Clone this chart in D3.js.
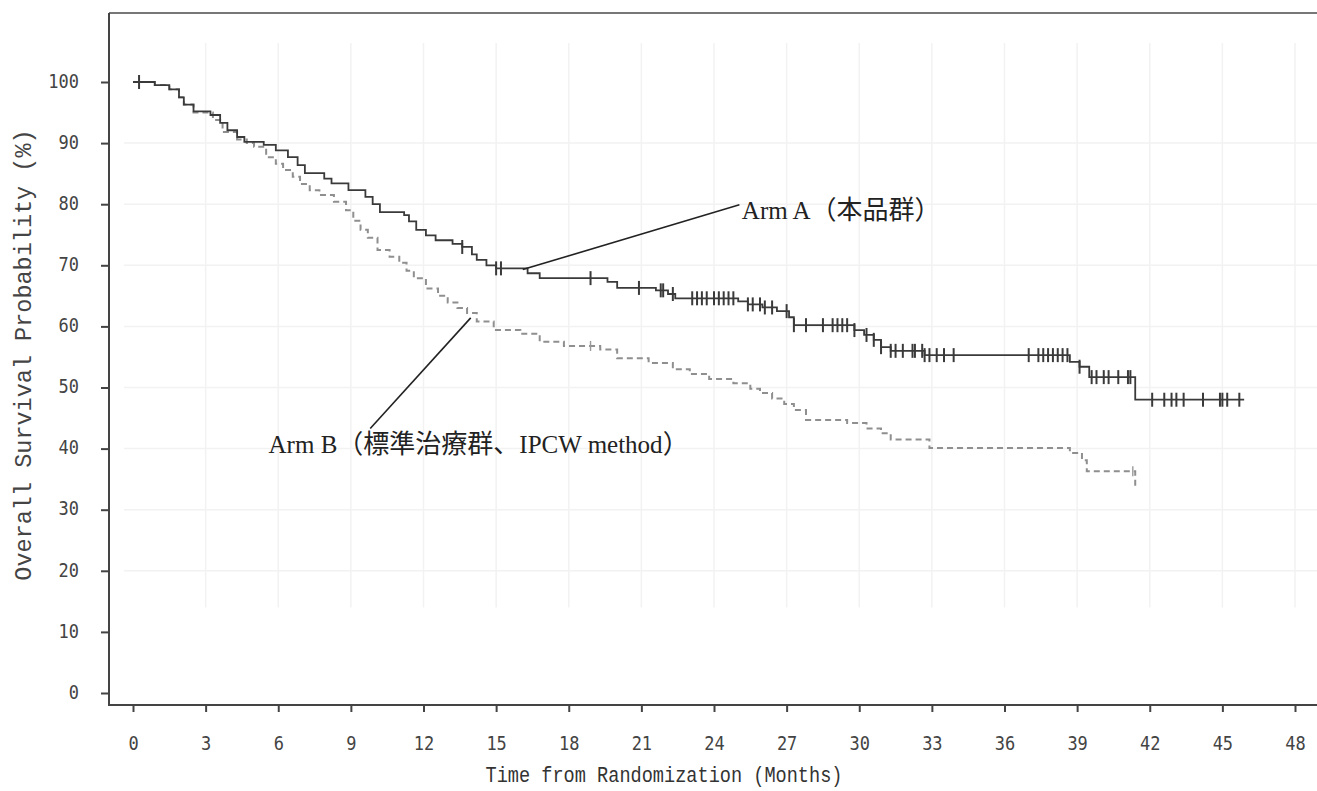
<!DOCTYPE html>
<html>
<head>
<meta charset="utf-8">
<script src="https://d3js.org/d3.v7.min.js"></script>
<style>
  body { margin: 0; background: #fff; }
  svg { display: block; }
</style>
</head>
<body>
<svg id="chart"></svg>
<script>
// 时间 (月) 与生存率 (%) —— 每一步之后的值
const armATime = [0, 0.9, 1.5, 1.9, 2.1, 2.5, 3.2, 3.6, 3.9, 4.3, 4.6, 5.4, 5.9, 6.4, 6.8, 7.1, 7.9, 8.2, 8.9, 9.6, 9.9, 10.2, 11.2, 11.4, 11.7, 12.1, 12.5, 13.2, 13.6, 14.0, 14.2, 14.6, 15.0, 16.3, 16.8, 19.6, 20.0, 21.6, 22.1, 22.4, 25.0, 25.4, 26.0, 26.6, 27.1, 27.3, 29.8, 30.2, 30.6, 30.9, 31.3, 32.7, 38.7, 39.1, 39.5, 41.4, 45.9];
const armASurv = [100, 99.5, 98.8, 97.5, 96.3, 95.2, 94.6, 93.3, 92.1, 91.0, 90.2, 89.7, 88.8, 87.7, 86.4, 85.1, 84.2, 83.4, 82.3, 81.2, 80.0, 78.7, 78.2, 77.2, 75.8, 74.9, 74.1, 73.5, 73.0, 71.8, 70.9, 70.0, 69.5, 68.7, 67.9, 67.3, 66.3, 65.9, 65.3, 64.6, 64.1, 63.6, 63.1, 62.5, 61.5, 60.2, 59.4, 58.6, 57.8, 56.6, 56.0, 55.3, 54.2, 53.4, 51.7, 48.0, 48.0];
const armACensor = [0.25, 13.6, 15.0, 15.2, 18.9, 20.9, 21.8, 21.9, 22.3, 23.1, 23.3, 23.5, 23.7, 24.0, 24.2, 24.4, 24.6, 24.8, 25.4, 25.6, 25.9, 26.1, 26.4, 27.0, 27.3, 27.8, 28.5, 28.9, 29.1, 29.3, 29.5, 29.8, 30.3, 30.6, 30.9, 31.3, 31.5, 31.8, 32.2, 32.3, 32.6, 32.7, 32.9, 33.2, 33.5, 33.9, 37.0, 37.4, 37.6, 37.8, 38.0, 38.2, 38.4, 38.6, 39.1, 39.6, 39.8, 40.1, 40.3, 40.7, 41.1, 41.2, 42.1, 42.6, 42.9, 43.1, 43.4, 44.2, 44.9, 45.0, 45.2, 45.7];

const armBTime = [0, 0.9, 1.5, 1.9, 2.1, 2.5, 3.3, 3.7, 4.3, 4.7, 5.0, 5.5, 5.9, 6.2, 6.6, 6.9, 7.3, 7.7, 8.3, 8.8, 9.1, 9.4, 9.7, 10.1, 10.6, 11.0, 11.3, 11.6, 12.1, 12.6, 13.0, 13.4, 13.8, 14.2, 14.9, 16.0, 16.8, 17.8, 19.3, 20.0, 21.3, 22.3, 23.0, 23.8, 24.8, 25.5, 25.9, 26.4, 26.9, 27.3, 27.8, 29.5, 30.3, 30.9, 31.3, 32.9, 38.7, 39.2, 39.4, 41.4];
const armBSurv = [100, 99.5, 98.8, 97.5, 96.3, 95.0, 93.8, 91.8, 90.6, 90.0, 89.4, 87.7, 86.6, 85.6, 84.5, 83.3, 82.3, 81.5, 80.4, 79.0, 77.3, 75.8, 74.5, 72.5, 71.4, 70.4, 69.1, 67.9, 66.2, 65.0, 63.9, 63.0, 62.2, 60.8, 59.4, 58.8, 57.5, 56.8, 56.2, 54.8, 54.0, 53.0, 52.2, 51.4, 50.7, 49.8, 49.1, 48.2, 47.3, 46.3, 44.7, 44.2, 43.3, 42.5, 41.5, 40.1, 39.3, 38.1, 36.3, 33.6];
const armBCensor = [18.9, 41.3];

const xTicks = [0, 3, 6, 9, 12, 15, 18, 21, 24, 27, 30, 33, 36, 39, 42, 45, 48];
const yTicks = [0, 10, 20, 30, 40, 50, 60, 70, 80, 90, 100];

const xTitle = "Time from Randomization (Months)";
const yTitle = "Overall Survival Probability (%)";
const labelA = ["Arm A", "（本品群）"];
const labelB = ["Arm B", "（標準治療群、", "IPCW method", "）"];

const width = 1317, height = 791;
const frame = { left: 109, top: 13, bottom: 705 };

const svg = d3.select("#chart").attr("width", width).attr("height", height);

//比例尺
const x = d3.scaleLinear().domain([0, 48]).range([133, 1295]);
const y = d3.scaleLinear().domain([0, 100]).range([693, 82]);

//网格线 (很淡)
const grid = svg.append("g").attr("stroke", "#f2f2f2").attr("stroke-width", 1.5);
grid.selectAll("line.gx").data(xTicks.slice(1)).enter().append("line")
  .attr("x1", d => x(d)).attr("x2", d => x(d))
  .attr("y1", frame.top + 30).attr("y2", y(14));
grid.selectAll("line.gy").data(yTicks.filter(d => d >= 20 && d <= 90)).enter().append("line")
  .attr("x1", frame.left + 15).attr("x2", width)
  .attr("y1", d => y(d)).attr("y2", d => y(d));

//外框
svg.append("line")
  .attr("x1", frame.left).attr("x2", width).attr("y1", frame.top).attr("y2", frame.top)
  .attr("stroke", "#777").attr("stroke-width", 2);
svg.append("path")
  .attr("d", `M${frame.left},${frame.top}V${frame.bottom}H${width}`)
  .attr("fill", "none").attr("stroke", "#444").attr("stroke-width", 2);

//左侧刻度
const yAxis = svg.append("g")
  .attr("transform", `translate(${frame.left},0)`)
  .call(d3.axisLeft(y).tickValues(yTicks).tickSize(8).tickPadding(22));
yAxis.select(".domain").remove();

//下侧刻度
const xAxis = svg.append("g")
  .attr("transform", `translate(0,${frame.bottom})`)
  .call(d3.axisBottom(x).tickValues(xTicks).tickSize(7).tickPadding(26));
xAxis.select(".domain").remove();

svg.selectAll(".tick line").attr("stroke", "#444").attr("stroke-width", 2);
svg.selectAll(".tick text")
  .attr("fill", "#444")
  .style("font-family", "'DejaVu Sans Mono', monospace")
  .style("font-size", "17px");
// 字体在原图里被纵向拉长
yAxis.selectAll(".tick text").attr("transform", "translate(0,-1) scale(1,1.15)").attr("dy", "0.32em");
xAxis.selectAll(".tick text").attr("transform", "translate(0,-5) scale(1,1.12)");

//坐标轴标题
svg.append("text")
  .attr("transform", "translate(664,782) scale(1,1.2)")
  .attr("text-anchor", "middle")
  .attr("fill", "#333")
  .style("font-family", "'Liberation Mono', monospace")
  .style("font-size", "18.6px")
  .text(xTitle);

svg.append("text")
  .attr("transform", "translate(31,355) rotate(-90)")
  .attr("text-anchor", "middle")
  .attr("fill", "#444")
  .style("font-family", "'Liberation Mono', monospace")
  .style("font-size", "23.5px")
  .text(yTitle);

//生存曲线
const line = d3.line()
  .x(d => x(d[0]))
  .y(d => y(d[1]))
  .curve(d3.curveStepAfter);

const dataA = armATime.map((t, i) => [t, armASurv[i]]);
const dataB = armBTime.map((t, i) => [t, armBSurv[i]]);

svg.append("path").datum(dataB)
  .attr("fill", "none").attr("stroke", "#8f8f8f")
  .attr("stroke-width", 2).attr("stroke-dasharray", "6,4")
  .attr("d", line);

svg.append("path").datum(dataA)
  .attr("fill", "none").attr("stroke", "#3a3a3a")
  .attr("stroke-width", 1.8)
  .attr("d", line);

//删失标记
function survAt(times, surv, t) {
  const i = d3.bisectRight(times, t) - 1;
  return surv[Math.max(0, i)];
}

svg.append("g").selectAll("line").data(armACensor).enter().append("line")
  .attr("x1", d => x(d)).attr("x2", d => x(d))
  .attr("y1", d => y(survAt(armATime, armASurv, d)) - 7)
  .attr("y2", d => y(survAt(armATime, armASurv, d)) + 7)
  .attr("stroke", "#3a3a3a").attr("stroke-width", 2);

svg.append("g").selectAll("line").data(armBCensor).enter().append("line")
  .attr("x1", d => x(d)).attr("x2", d => x(d))
  .attr("y1", d => y(survAt(armBTime, armBSurv, d)) - 5)
  .attr("y2", d => y(survAt(armBTime, armBSurv, d)) + 5)
  .attr("stroke", "#9a9a9a").attr("stroke-width", 1.4);

//标注
const notes = [
  { from: [16.1, 69.3], to: [25.05, 79.9], parts: labelA, tx: 25.15, ty: 77.6 },
  { from: [13.95, 61.4], to: [9.8, 43.3], parts: labelB, tx: 5.6, ty: 39.3 }
];

svg.append("g").selectAll("line").data(notes).enter().append("line")
  .attr("x1", d => x(d.from[0])).attr("y1", d => y(d.from[1]))
  .attr("x2", d => x(d.to[0])).attr("y2", d => y(d.to[1]))
  .attr("stroke", "#222").attr("stroke-width", 1.6);

const noteText = svg.append("g").selectAll("text").data(notes).enter().append("text")
  .attr("x", d => x(d.tx)).attr("y", d => y(d.ty))
  .attr("fill", "#222")
  .style("font-family", "'Liberation Serif', 'Noto Sans CJK JP', serif")
  .style("font-size", "25px");
noteText.selectAll("tspan").data(d => d.parts).enter().append("tspan")
  .style("font-size", p => /[\u3000-\u9fff\uff00-\uffef]/.test(p) ? "26px" : null)
  .text(p => p);
</script>
</body>
</html>
